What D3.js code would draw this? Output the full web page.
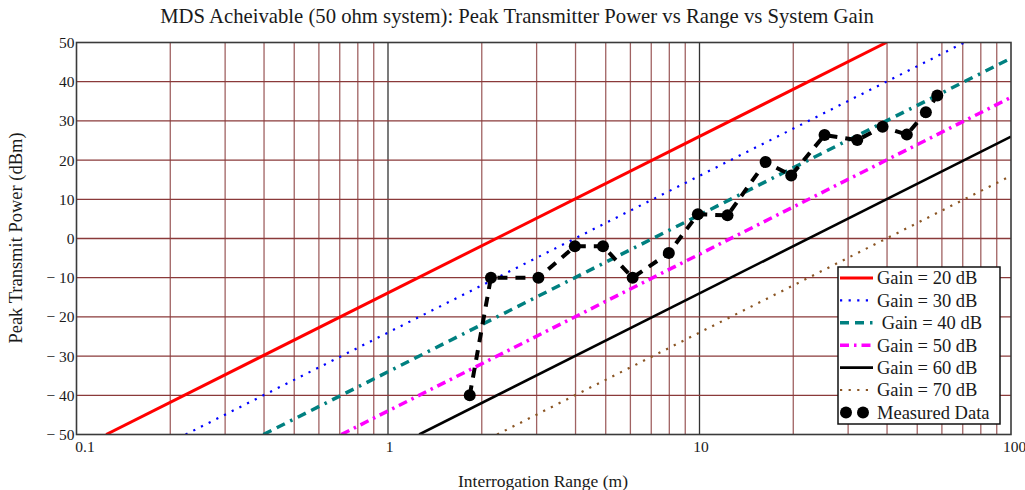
<!DOCTYPE html>
<html>
<head>
<meta charset="utf-8">
<script src="https://cdn.jsdelivr.net/npm/d3@7"></script>
<style>
  html, body { margin: 0; padding: 0; background: #fff; }
  svg { display: block; }
  text { font-family: "Liberation Serif", "Times New Roman", serif; fill: #1a1a1a; white-space: pre; }
</style>
</head>
<body>
<svg id="chart" width="1025" height="490"></svg>
<script>
// ---------- data ----------
const titleText = "MDS Acheivable (50 ohm system): Peak Transmitter Power vs Range vs System Gain";
const xTitle = "Interrogation Range (m)";
const yTitle = "Peak Transmit Power (dBm)";

const xTickValues = [0.1, 1, 10, 100];
const xTickLabels = ["0.1", "1", "10", "100"];
const yTickValues = [50, 40, 30, 20, 10, 0, -10, -20, -30, -40, -50];
const yTickLabels = ["50", "40", "30", "20", "10", "0", "\u2212 10", "\u2212 20", "\u2212 30", "\u2212 40", "\u2212 50"];

// gain lines: visible start / end points (range m, power dBm)
const gainLabels = ["Gain = 20 dB", "Gain = 30 dB", " Gain = 40 dB", "Gain = 50 dB", "Gain = 60 dB", "Gain = 70 dB"];
const gainStartRange = [0.1245, 0.224, 0.398, 0.708, 1.259, 2.24];
const gainStartPower = [-50, -50, -50, -50, -50, -50];
const gainEndRange   = [39.8, 70.8, 100, 100, 100, 100];
const gainEndPower   = [50, 50, 46, 36, 26, 16];

// measured data
const measuredLabel = "Measured Data";
const measuredRange = [1.83, 2.14, 3.04, 3.98, 4.9, 6.1, 7.97, 9.88, 12.3, 16.3, 19.7, 25.2, 32.1, 38.7, 46.3, 53.3, 58];
const measuredPower = [-40, -10, -10, -2, -2, -10, -3.7, 6.2, 5.9, 19.5, 16.1, 26.4, 25.1, 28.5, 26.5, 32.2, 36.5];

// ---------- styles ----------
const gainStyles = [
  { color: "#ff0000", width: 3,   dash: null },
  { color: "#0000ff", width: 2.2, dash: "2.2,6.4" },
  { color: "#008080", width: 3.5, dash: "9,6,9,6,2.5,6" },
  { color: "#ff00ff", width: 3.5, dash: "9,5,2.5,5" },
  { color: "#000000", width: 2.6, dash: null },
  { color: "#8b5523", width: 2.2, dash: "2.2,6.4" }
];

const svg = d3.select("#chart");
const W = 1025, H = 490;
const plot = { left: 76.5, right: 1011, top: 42.5, bottom: 434.5 };

const x = d3.scaleLog().domain([0.1, 100]).range([plot.left, plot.right]);
const y = d3.scaleLinear().domain([-50, 50]).range([plot.bottom, plot.top]);

svg.append("rect").attr("width", W).attr("height", H).attr("fill", "#fff");

// clip
svg.append("defs").append("clipPath").attr("id", "clip")
  .append("rect").attr("x", plot.left).attr("y", plot.top)
  .attr("width", plot.right - plot.left).attr("height", plot.bottom - plot.top);

// ---------- grid ----------
const grid = svg.append("g");
const minorX = [];
[0.1, 1, 10].forEach(d => { for (let k = 2; k <= 9; k++) minorX.push(d * k); });
grid.selectAll("line.vx").data(minorX).enter().append("line")
  .attr("x1", d => x(d)).attr("x2", d => x(d))
  .attr("y1", plot.top).attr("y2", plot.bottom)
  .attr("stroke", "#a06262").attr("stroke-width", 1.3);
grid.selectAll("line.vmaj").data([1, 10]).enter().append("line")
  .attr("x1", d => x(d)).attr("x2", d => x(d))
  .attr("y1", plot.top).attr("y2", plot.bottom)
  .attr("stroke", "#333").attr("stroke-width", 1.3);
grid.selectAll("line.hy").data(yTickValues.filter(v => v > -50 && v < 50)).enter().append("line")
  .attr("x1", plot.left).attr("x2", plot.right)
  .attr("y1", d => y(d)).attr("y2", d => y(d))
  .attr("stroke", "#8a3a3a").attr("stroke-width", 1.3);

// ---------- gain lines ----------
const lineGen = d3.line().x(d => x(d[0])).y(d => y(d[1]));
const series = svg.append("g").attr("clip-path", "url(#clip)");
gainLabels.forEach((lab, i) => {
  const pts = [[gainStartRange[i], gainStartPower[i]], [gainEndRange[i], gainEndPower[i]]];
  const st = gainStyles[i];
  series.append("path").datum(pts).attr("d", lineGen)
    .attr("fill", "none").attr("stroke", st.color).attr("stroke-width", st.width)
    .attr("stroke-dasharray", st.dash);
});

// ---------- measured data ----------
const measured = measuredRange.map((r, i) => [r, measuredPower[i]]);
series.append("path").datum(measured).attr("d", lineGen)
  .attr("fill", "none").attr("stroke", "#000").attr("stroke-width", 4)
  .attr("stroke-dasharray", "10,8");
series.selectAll("circle.m").data(measured).enter().append("circle")
  .attr("cx", d => x(d[0])).attr("cy", d => y(d[1])).attr("r", 6).attr("fill", "#000");

// ---------- frame ----------
svg.append("rect").attr("x", plot.left).attr("y", plot.top)
  .attr("width", plot.right - plot.left).attr("height", plot.bottom - plot.top)
  .attr("fill", "none").attr("stroke", "#3a3a3a").attr("stroke-width", 1.6);

// ---------- axes ----------
const yAxis = d3.axisLeft(y).tickValues(yTickValues)
  .tickFormat((d, i) => yTickLabels[i]).tickSize(0).tickPadding(2);
const gy = svg.append("g").attr("transform", `translate(${plot.left},0)`).call(yAxis);
gy.select(".domain").remove();
gy.selectAll("text").style("font-family", "'Liberation Serif', serif")
  .style("font-size", "15.5px").attr("fill", "#1e1e1e");

const xAxis = d3.axisBottom(x).tickValues(xTickValues)
  .tickFormat((d, i) => xTickLabels[i]).tickSize(0).tickPadding(6);
const gx = svg.append("g").attr("transform", `translate(0,${plot.bottom})`).call(xAxis);
gx.select(".domain").remove();
gx.selectAll("text").style("font-family", "'Liberation Serif', serif")
  .style("font-size", "15.5px").attr("fill", "#1e1e1e")
  .attr("dx", (d, i) => i === 0 ? 8 : (i === 3 ? 3 : 1));

// ---------- titles ----------
svg.append("text").attr("x", 517).attr("y", 23).attr("text-anchor", "middle")
  .style("font-size", "20.7px").text(titleText);
svg.append("text").attr("x", 543).attr("y", 487).attr("text-anchor", "middle")
  .style("font-size", "17.5px").text(xTitle);
svg.append("text").attr("transform", "translate(22,238) rotate(-90)")
  .attr("text-anchor", "middle").style("font-size", "18.5px").text(yTitle);

// ---------- legend ----------
const lg = svg.append("g");
const lgBox = { x: 838, y: 267, w: 162, h: 157 };
lg.append("rect").attr("x", lgBox.x).attr("y", lgBox.y).attr("width", lgBox.w).attr("height", lgBox.h)
  .attr("fill", "#fff").attr("stroke", "#111").attr("stroke-width", 1.5);
const rowY = i => 278 + i * 22.4;
gainLabels.forEach((lab, i) => {
  const st = gainStyles[i];
  lg.append("line").attr("x1", 840).attr("x2", 873).attr("y1", rowY(i)).attr("y2", rowY(i))
    .attr("stroke", st.color).attr("stroke-width", st.width).attr("stroke-dasharray", st.dash);
  lg.append("text").attr("x", 877).attr("y", rowY(i)).attr("dy", "0.35em")
    .style("font-size", "18.5px").text(lab);
});
lg.selectAll("circle.lm").data([846, 863]).enter().append("circle")
  .attr("cx", d => d).attr("cy", rowY(6)).attr("r", 6).attr("fill", "#000");
lg.append("text").attr("x", 877).attr("y", rowY(6)).attr("dy", "0.35em")
  .style("font-size", "18.5px").text(measuredLabel);
</script>
</body>
</html>
